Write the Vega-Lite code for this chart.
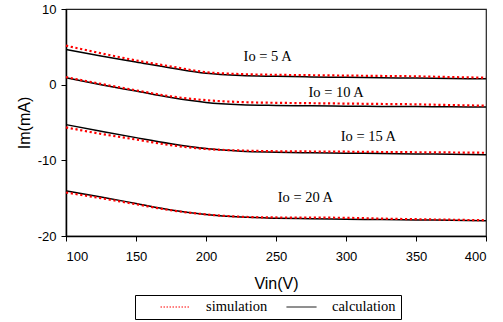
{
  "$schema": "https://vega.github.io/schema/vega-lite/v6.json",
  "width": 420,
  "height": 227,
  "autosize": {"type": "none"},
  "padding": {"left": 66, "top": 9, "right": 17, "bottom": 86},
  "background": "white",
  "config": {
    "view": {"stroke": "#222", "strokeWidth": 1.2},
    "axis": {
      "grid": false,
      "domainColor": "black",
      "domainWidth": 1.5,
      "tickColor": "black",
      "tickSize": 5,
      "labelFont": "Liberation Sans",
      "labelFontSize": 13,
      "labelColor": "black",
      "labelExpr": "'' + datum.value",
      "titleFont": "Liberation Sans",
      "titleFontSize": 16,
      "titleFontWeight": "normal",
      "titleColor": "black"
    },
    "legend": {
      "orient": "none",
      "legendX": 69,
      "legendY": 286,
      "direction": "horizontal",
      "strokeColor": "black",
      "fillColor": "white",
      "padding": 5,
      "labelFont": "Liberation Serif",
      "labelFontSize": 14.5,
      "labelColor": "black",
      "symbolType": "stroke",
      "symbolSize": 900,
      "symbolStrokeWidth": 1,
      "symbolOffset": 20,
      "labelOffset": 15,
      "gridAlign": "none",
      "columnPadding": -2,
      "clipHeight": 14,
      "title": null
    }
  },
  "datasets": {
    "curves": [
      {"V": 100, "Im": 4.66, "Io": "5", "type": "calculation"},
      {"V": 125, "Im": 3.8, "Io": "5", "type": "calculation"},
      {"V": 150, "Im": 3.0, "Io": "5", "type": "calculation"},
      {"V": 175, "Im": 2.2, "Io": "5", "type": "calculation"},
      {"V": 200, "Im": 1.5, "Io": "5", "type": "calculation"},
      {"V": 225, "Im": 1.2, "Io": "5", "type": "calculation"},
      {"V": 250, "Im": 1.1, "Io": "5", "type": "calculation"},
      {"V": 275, "Im": 1.02, "Io": "5", "type": "calculation"},
      {"V": 300, "Im": 0.97, "Io": "5", "type": "calculation"},
      {"V": 325, "Im": 0.92, "Io": "5", "type": "calculation"},
      {"V": 350, "Im": 0.87, "Io": "5", "type": "calculation"},
      {"V": 375, "Im": 0.82, "Io": "5", "type": "calculation"},
      {"V": 400, "Im": 0.77, "Io": "5", "type": "calculation"},
      {"V": 100, "Im": 5.15, "Io": "5", "type": "simulation"},
      {"V": 125, "Im": 4.15, "Io": "5", "type": "simulation"},
      {"V": 150, "Im": 3.2, "Io": "5", "type": "simulation"},
      {"V": 175, "Im": 2.4, "Io": "5", "type": "simulation"},
      {"V": 200, "Im": 1.65, "Io": "5", "type": "simulation"},
      {"V": 225, "Im": 1.4, "Io": "5", "type": "simulation"},
      {"V": 250, "Im": 1.3, "Io": "5", "type": "simulation"},
      {"V": 275, "Im": 1.25, "Io": "5", "type": "simulation"},
      {"V": 300, "Im": 1.2, "Io": "5", "type": "simulation"},
      {"V": 325, "Im": 1.15, "Io": "5", "type": "simulation"},
      {"V": 350, "Im": 1.1, "Io": "5", "type": "simulation"},
      {"V": 375, "Im": 1.0, "Io": "5", "type": "simulation"},
      {"V": 400, "Im": 0.92, "Io": "5", "type": "simulation"},
      {"V": 100, "Im": 0.9, "Io": "10", "type": "calculation"},
      {"V": 125, "Im": 0.0, "Io": "10", "type": "calculation"},
      {"V": 150, "Im": -0.85, "Io": "10", "type": "calculation"},
      {"V": 175, "Im": -1.7, "Io": "10", "type": "calculation"},
      {"V": 200, "Im": -2.35, "Io": "10", "type": "calculation"},
      {"V": 225, "Im": -2.65, "Io": "10", "type": "calculation"},
      {"V": 250, "Im": -2.75, "Io": "10", "type": "calculation"},
      {"V": 275, "Im": -2.8, "Io": "10", "type": "calculation"},
      {"V": 300, "Im": -2.85, "Io": "10", "type": "calculation"},
      {"V": 325, "Im": -2.88, "Io": "10", "type": "calculation"},
      {"V": 350, "Im": -2.9, "Io": "10", "type": "calculation"},
      {"V": 375, "Im": -2.93, "Io": "10", "type": "calculation"},
      {"V": 400, "Im": -2.96, "Io": "10", "type": "calculation"},
      {"V": 100, "Im": 1.0, "Io": "10", "type": "simulation"},
      {"V": 125, "Im": 0.1, "Io": "10", "type": "simulation"},
      {"V": 150, "Im": -0.75, "Io": "10", "type": "simulation"},
      {"V": 175, "Im": -1.55, "Io": "10", "type": "simulation"},
      {"V": 200, "Im": -2.05, "Io": "10", "type": "simulation"},
      {"V": 225, "Im": -2.3, "Io": "10", "type": "simulation"},
      {"V": 250, "Im": -2.4, "Io": "10", "type": "simulation"},
      {"V": 275, "Im": -2.45, "Io": "10", "type": "simulation"},
      {"V": 300, "Im": -2.5, "Io": "10", "type": "simulation"},
      {"V": 325, "Im": -2.55, "Io": "10", "type": "simulation"},
      {"V": 350, "Im": -2.6, "Io": "10", "type": "simulation"},
      {"V": 375, "Im": -2.7, "Io": "10", "type": "simulation"},
      {"V": 400, "Im": -2.78, "Io": "10", "type": "simulation"},
      {"V": 100, "Im": -5.28, "Io": "15", "type": "calculation"},
      {"V": 125, "Im": -6.15, "Io": "15", "type": "calculation"},
      {"V": 150, "Im": -7.0, "Io": "15", "type": "calculation"},
      {"V": 175, "Im": -7.8, "Io": "15", "type": "calculation"},
      {"V": 200, "Im": -8.45, "Io": "15", "type": "calculation"},
      {"V": 225, "Im": -8.8, "Io": "15", "type": "calculation"},
      {"V": 250, "Im": -8.92, "Io": "15", "type": "calculation"},
      {"V": 275, "Im": -9.0, "Io": "15", "type": "calculation"},
      {"V": 300, "Im": -9.05, "Io": "15", "type": "calculation"},
      {"V": 325, "Im": -9.1, "Io": "15", "type": "calculation"},
      {"V": 350, "Im": -9.15, "Io": "15", "type": "calculation"},
      {"V": 375, "Im": -9.2, "Io": "15", "type": "calculation"},
      {"V": 400, "Im": -9.25, "Io": "15", "type": "calculation"},
      {"V": 100, "Im": -5.65, "Io": "15", "type": "simulation"},
      {"V": 125, "Im": -6.5, "Io": "15", "type": "simulation"},
      {"V": 150, "Im": -7.25, "Io": "15", "type": "simulation"},
      {"V": 175, "Im": -8.0, "Io": "15", "type": "simulation"},
      {"V": 200, "Im": -8.5, "Io": "15", "type": "simulation"},
      {"V": 225, "Im": -8.7, "Io": "15", "type": "simulation"},
      {"V": 250, "Im": -8.8, "Io": "15", "type": "simulation"},
      {"V": 275, "Im": -8.83, "Io": "15", "type": "simulation"},
      {"V": 300, "Im": -8.86, "Io": "15", "type": "simulation"},
      {"V": 325, "Im": -8.9, "Io": "15", "type": "simulation"},
      {"V": 350, "Im": -8.93, "Io": "15", "type": "simulation"},
      {"V": 375, "Im": -8.96, "Io": "15", "type": "simulation"},
      {"V": 400, "Im": -9.0, "Io": "15", "type": "simulation"},
      {"V": 100, "Im": -14.05, "Io": "20", "type": "calculation"},
      {"V": 125, "Im": -14.85, "Io": "20", "type": "calculation"},
      {"V": 150, "Im": -15.7, "Io": "20", "type": "calculation"},
      {"V": 175, "Im": -16.55, "Io": "20", "type": "calculation"},
      {"V": 200, "Im": -17.15, "Io": "20", "type": "calculation"},
      {"V": 225, "Im": -17.5, "Io": "20", "type": "calculation"},
      {"V": 250, "Im": -17.65, "Io": "20", "type": "calculation"},
      {"V": 275, "Im": -17.72, "Io": "20", "type": "calculation"},
      {"V": 300, "Im": -17.78, "Io": "20", "type": "calculation"},
      {"V": 325, "Im": -17.83, "Io": "20", "type": "calculation"},
      {"V": 350, "Im": -17.88, "Io": "20", "type": "calculation"},
      {"V": 375, "Im": -17.92, "Io": "20", "type": "calculation"},
      {"V": 400, "Im": -17.97, "Io": "20", "type": "calculation"},
      {"V": 100, "Im": -14.25, "Io": "20", "type": "simulation"},
      {"V": 125, "Im": -15.0, "Io": "20", "type": "simulation"},
      {"V": 150, "Im": -15.8, "Io": "20", "type": "simulation"},
      {"V": 175, "Im": -16.6, "Io": "20", "type": "simulation"},
      {"V": 200, "Im": -17.15, "Io": "20", "type": "simulation"},
      {"V": 225, "Im": -17.45, "Io": "20", "type": "simulation"},
      {"V": 250, "Im": -17.55, "Io": "20", "type": "simulation"},
      {"V": 275, "Im": -17.57, "Io": "20", "type": "simulation"},
      {"V": 300, "Im": -17.6, "Io": "20", "type": "simulation"},
      {"V": 325, "Im": -17.7, "Io": "20", "type": "simulation"},
      {"V": 350, "Im": -17.78, "Io": "20", "type": "simulation"},
      {"V": 375, "Im": -17.85, "Io": "20", "type": "simulation"},
      {"V": 400, "Im": -17.92, "Io": "20", "type": "simulation"}
    ],
    "labels": [
      {"V": 244, "Im": 3.6, "text": "Io = 5 A"},
      {"V": 293, "Im": -1.15, "text": "Io = 10 A"},
      {"V": 316, "Im": -6.96, "text": "Io = 15 A"},
      {"V": 271, "Im": -15.0, "text": "Io = 20 A"}
    ]
  },
  "layer": [
    {
      "data": {"name": "curves"},
      "transform": [{"filter": "datum.type === 'calculation'"}],
      "mark": {"type": "line", "interpolate": "monotone", "strokeWidth": 1.5},
      "encoding": {
        "x": {"field": "V", "type": "quantitative", "scale": {"domain": [100, 400], "nice": false},
          "axis": {"values": [100, 150, 200, 250, 300, 350, 400], "title": "Vin(V)", "labelPadding": 9, "titlePadding": 12}},
        "y": {"field": "Im", "type": "quantitative", "scale": {"domain": [-20, 10], "nice": false},
          "axis": {"values": [-20, -15, -10, -5, 0, 5, 10], "title": "Im(mA)", "labelPadding": 5, "titlePadding": 5}},
        "color": {"field": "type", "type": "nominal", "scale": {"domain": ["simulation", "calculation"], "range": ["#ff0000", "black"]},
          "legend": {
            "labelExpr": "datum.label === 'calculation' ? datum.label + '\u00a0\u00a0\u00a0\u00a0\u00a0\u00a0' : datum.label",
            "encode": {"symbols": {"update": {"strokeDash": {"signal": "datum.value === 'simulation' ? [1.5, 1.5] : [1, 0]"}}}}}},
        "detail": {"field": "Io"}
      }
    },
    {
      "data": {"name": "curves"},
      "transform": [{"filter": "datum.type === 'simulation'"}],
      "mark": {"type": "line", "interpolate": "monotone", "strokeWidth": 2.2, "strokeDash": [2.2, 2.6]},
      "encoding": {
        "x": {"field": "V", "type": "quantitative"},
        "y": {"field": "Im", "type": "quantitative"},
        "color": {"field": "type", "type": "nominal"},
        "detail": {"field": "Io"}
      }
    },
    {
      "data": {"name": "labels"},
      "mark": {"type": "text", "font": "Liberation Serif", "fontSize": 14.5, "color": "black", "align": "center", "baseline": "middle"},
      "encoding": {
        "x": {"field": "V", "type": "quantitative"},
        "y": {"field": "Im", "type": "quantitative"},
        "text": {"field": "text"}
      }
    }
  ]
}
